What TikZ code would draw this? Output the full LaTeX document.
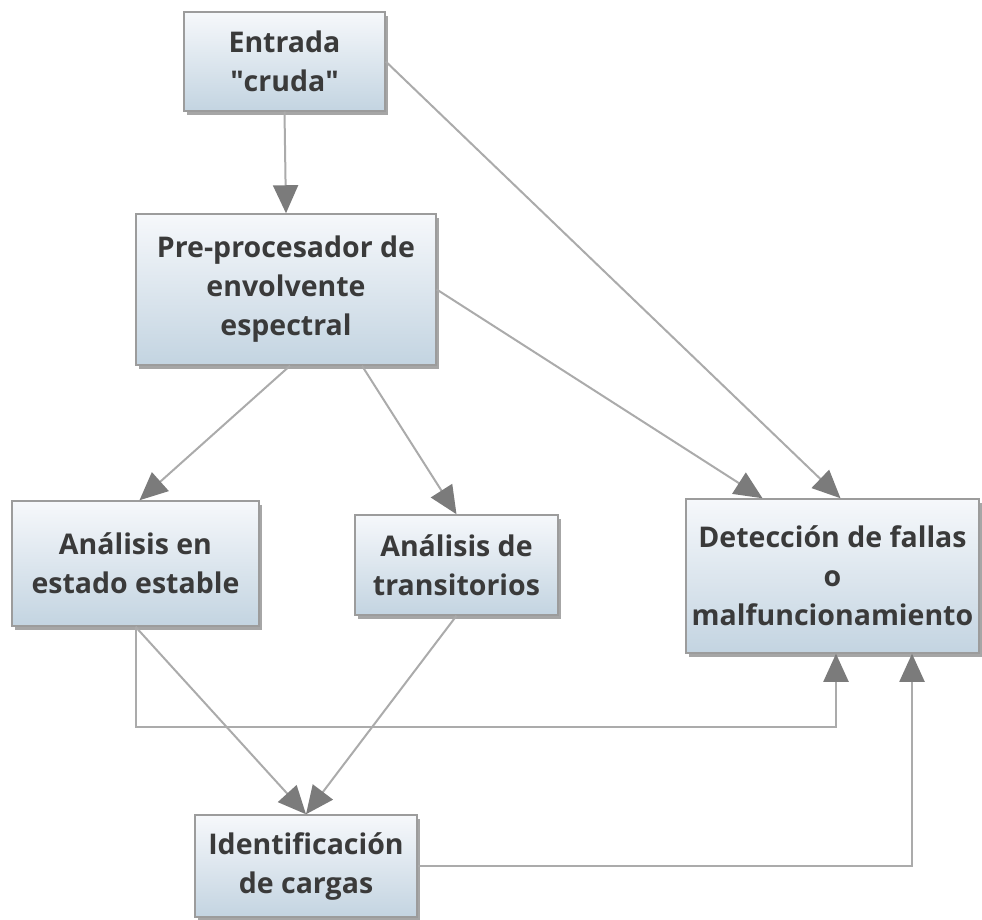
\documentclass[tikz,border=0pt]{standalone}
\usepackage{fontspec}
\setmainfont{Open Sans}
\usetikzlibrary{arrows.meta,shadows,calc}
\definecolor{boxtop}{HTML}{F6F8FB}
\definecolor{boxbot}{HTML}{C3D4E1}
\definecolor{boxline}{HTML}{9C9C9C}
\definecolor{lnk}{HTML}{ABABAB}
\definecolor{tipc}{HTML}{7B7B7B}
\definecolor{txt}{HTML}{3A3A3A}
\begin{document}
\begin{tikzpicture}[x=1pt,y=-1pt,
  box/.style={draw=boxline, line width=1.5pt, top color=boxtop, bottom color=boxbot,
    drop shadow={shadow xshift=3pt, shadow yshift=-4pt, opacity=0.35, fill=black},
    align=center, font=\fontsize{28.5}{39}\selectfont\bfseries, text=txt, inner sep=0pt},
  link/.style={draw=lnk, line width=2pt, -{Triangle[length=28pt,width=25pt,color=tipc]}}]
\useasboundingbox (0,0) rectangle (982,920);
\node[box, minimum width=201pt, minimum height=99pt] (e) at (284.5,61.5) {Entrada\\\textquotedbl cruda\textquotedbl};
\node[box, minimum width=300pt, minimum height=151pt] (p) at (286,289.5) {Pre-procesador de\\envolvente\\espectral};
\node[box, minimum width=247pt, minimum height=125pt] (s) at (135.5,563.5) {Análisis en\\estado estable};
\node[box, minimum width=203pt, minimum height=100pt] (t) at (456.5,565) {Análisis de\\transitorios};
\node[box, minimum width=293pt, minimum height=154pt] (d) at (832.5,576) {Detección de fallas\\o\\malfuncionamiento};
\node[box, minimum width=222pt, minimum height=102pt] (i) at (306,866) {Identificación\\de cargas};
\draw[link] (e.south) -- (p.north);
\draw[link] (e.east) -- ($(d.north)+(8,0)$);
\draw[link] (p.east) -- ($(d.north)+(-70,0)$);
\draw[link] ($(p.south)+(4,0)$) -- ($(s.north)+(4,0)$);
\draw[link] ($(p.south)+(76,0)$) -- (t.north);
\draw[link] (s.south) -- (i.north);
\draw[link] (t.south) -- (i.north);
\coordinate (a1) at (836,727);
\draw[link] (s.south) |- (a1) -- (a1 |- d.south);
\coordinate (a2) at (912,866);
\draw[link] (i.east) -| (a2 |- d.south);
\end{tikzpicture}
\end{document}
